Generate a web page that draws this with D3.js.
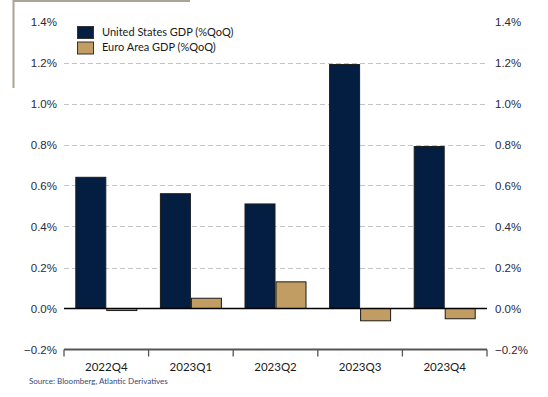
<!DOCTYPE html>
<html>
<head>
<meta charset="utf-8">
<script src="https://cdn.jsdelivr.net/npm/d3@7"></script>
<style>
  body { margin: 0; background: #fff; }
  svg { font-family: Lato, "Open Sans", sans-serif; }
  .ytext { font-size: 11.5px; fill: #2a2a3a; }
  .xtext { font-size: 11.5px; fill: #1a1a1a; }
  .legend { font-size: 11px; fill: #1a1a1a; }
  .source { font-size: 8px; fill: #2f4a7a; }
</style>
</head>
<body>
<script>
// data
const quarters = ["2022Q4", "2023Q1", "2023Q2", "2023Q3", "2023Q4"];
const usGdp = [0.64, 0.56, 0.51, 1.19, 0.79];
const euGdp = [-0.01, 0.05, 0.13, -0.06, -0.05];
const seriesNames = ["United States GDP (%QoQ)", "Euro Area GDP (%QoQ)"];
const yTicks = [-0.2, 0, 0.2, 0.4, 0.6, 0.8, 1.0, 1.2, 1.4];

const colors = ["#041e42", "#c19c63"];

const fig = { width: 548, height: 397 };
const plot = { left: 64, right: 487, top: 21.5, bottom: 349.5 };

const svg = d3.select("body").append("svg")
    .attr("width", fig.width)
    .attr("height", fig.height);

// frame corner top left
svg.append("path")
    .attr("d", "M13.5,88 V1 H190")
    .attr("fill", "none")
    .attr("stroke", "#aaa398")
    .attr("stroke-width", 2);

const x = d3.scaleBand()
    .domain(quarters)
    .range([plot.left, plot.right])
    .paddingInner(0)
    .paddingOuter(0);

const xs = d3.scaleBand()
    .domain([0, 1])
    .range([0, 62])
    ;

const y = d3.scaleLinear()
    .domain([-0.2, 1.4])
    .range([plot.bottom, plot.top]);

const fmt = d => d3.format(".1f")(d) + "%";

// gridlines
svg.append("g")
    .selectAll("line")
    .data(yTicks.filter(d => d > 0.01 && d < 1.3))
    .enter()
    .append("line")
    .attr("x1", plot.left)
    .attr("x2", plot.right)
    .attr("y1", d => Math.round(y(d)) + 0.5)
    .attr("y2", d => Math.round(y(d)) + 0.5)
    .attr("stroke", "#c4c4c4")
    .attr("stroke-width", 1)
    .attr("stroke-dasharray", "5,3");

// left axis labels
const yLeft = svg.append("g")
    .attr("transform", "translate(" + (plot.left - 7) + ",0)")
    .call(d3.axisLeft(y).tickValues(yTicks).tickFormat(fmt).tickSize(0).tickPadding(0));
yLeft.select(".domain").remove();
yLeft.selectAll("text").classed("ytext", true).attr("fill", null);

// right axis labels
const yRight = svg.append("g")
    .attr("transform", "translate(" + (plot.right + 8) + ",0)")
    .call(d3.axisRight(y).tickValues(yTicks).tickFormat(fmt).tickSize(0).tickPadding(0));
yRight.select(".domain").remove();
yRight.selectAll("text").classed("ytext", true).attr("fill", null);

// bars
const groups = svg.append("g")
    .selectAll("g")
    .data(quarters)
    .enter()
    .append("g")
    .attr("transform", d => "translate(" + (x(d) + (x.bandwidth() - 62) / 2) + ",0)");

[usGdp, euGdp].forEach((vals, s) => {
    groups.append("rect")
        .attr("x", xs(s) + 0.5)
        .attr("width", xs.bandwidth() - 1)
        .attr("y", (d, i) => y(Math.max(0, vals[i])))
        .attr("height", (d, i) => Math.abs(y(vals[i]) - y(0)))
        .attr("fill", colors[s])
        .attr("stroke", "#1b1b1b")
        .attr("stroke-width", 1);
});

// zero line
svg.append("line")
    .attr("x1", plot.left)
    .attr("x2", plot.right)
    .attr("y1", y(0))
    .attr("y2", y(0))
    .attr("stroke", "#000")
    .attr("stroke-width", 1.6);

// bottom category axis
const xAxis = svg.append("g")
    .attr("transform", "translate(0," + plot.bottom + ")");
xAxis.append("line")
    .attr("x1", plot.left)
    .attr("x2", plot.right)
    .attr("stroke", "#555")
    .attr("stroke-width", 1.8);
xAxis.selectAll(".sep")
    .data(quarters.concat(["end"]))
    .enter()
    .append("line")
    .attr("x1", (d, i) => plot.left + i * x.bandwidth())
    .attr("x2", (d, i) => plot.left + i * x.bandwidth())
    .attr("y1", 0)
    .attr("y2", 7)
    .attr("stroke", "#555")
    .attr("stroke-width", 1.3);
xAxis.selectAll(".xtext")
    .data(quarters)
    .enter()
    .append("text")
    .classed("xtext", true)
    .attr("x", d => x(d) + x.bandwidth() / 2)
    .attr("y", 21.5)
    .attr("text-anchor", "middle")
    .text(d => d);

// legend
const legend = svg.append("g")
    .attr("transform", "translate(77,26)");
seriesNames.forEach((name, i) => {
    legend.append("rect")
        .attr("x", 0.5)
        .attr("y", i * 15.5 + 0.5)
        .attr("width", 16)
        .attr("height", 12)
        .attr("fill", colors[i])
        .attr("stroke", "#333");
    legend.append("text")
        .classed("legend", true)
        .attr("x", 25)
        .attr("y", i * 15.5 + 6)
        .attr("dy", "0.35em")
        .text(name);
});

// source
svg.append("text")
    .classed("source", true)
    .attr("x", 29)
    .attr("y", 384)
    .text("Source: Bloomberg, Atlantic Derivatives");
</script>
</body>
</html>
